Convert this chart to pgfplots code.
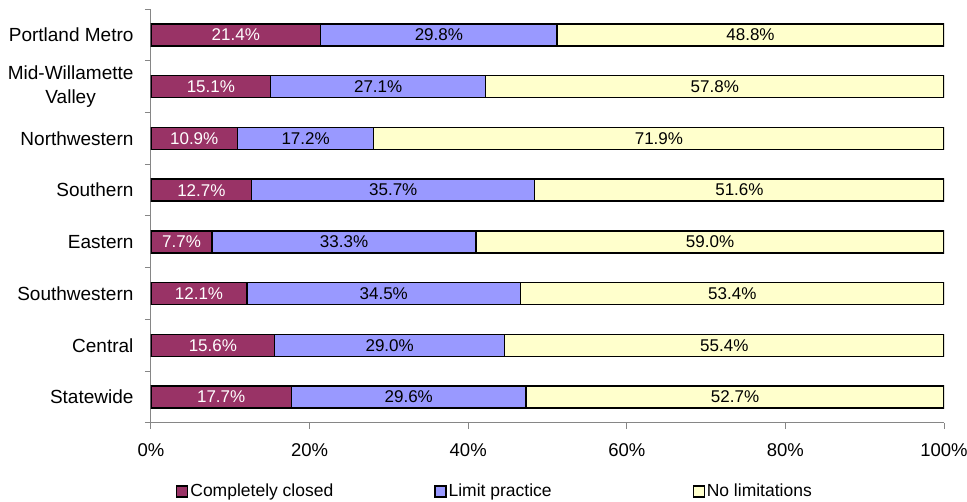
\documentclass[border=0pt]{standalone}
\usepackage{pgfplots}
\pgfplotsset{compat=1.18}
\usepackage{pgfplotstable}
\usepackage{fontspec}
\setmainfont{Liberation Sans}

\definecolor{closed}{HTML}{993366}
\definecolor{limit}{HTML}{9999FF}
\definecolor{nolim}{HTML}{FFFFCC}
\definecolor{axisgray}{HTML}{868686}

% pos 7 = top row (Portland Metro)
\pgfplotstableread{
pos closed limit none
7 21.4 29.8 48.8
6 15.1 27.1 57.8
5 10.9 17.2 71.9
4 12.7 35.7 51.6
3 7.7 33.3 59.0
2 12.1 34.5 53.4
1 15.6 29.0 55.4
0 17.7 29.6 52.7
}\regions

\begin{document}
\begin{tikzpicture}
\path[use as bounding box] (0,0) rectangle (967pt,502pt);
\begin{axis}[
    at={(151pt,79pt)}, anchor=south west,
    scale only axis, width=793pt, height=414pt,
    xmin=0, xmax=100, ymin=-0.5, ymax=7.5,
    /pgf/number format/assume math mode=true,
    axis lines*=left,
    axis line style={-, axisgray, line width=1pt},
    tick align=outside,
    xtick={0,20,...,100},
    xticklabel={\pgfmathprintnumber{\tick}\%},
    xticklabel style={font=\fontsize{18.5}{22}\selectfont, black, yshift=-11pt},
    major tick length=6pt, minor tick length=6pt,
    major x tick style={axisgray, line width=1pt},
    ytick={0,...,7},
    yticklabels={Statewide, Central, Southwestern, Eastern, Southern, Northwestern, {Mid-Willamette\\Valley}, Portland Metro},
    yticklabel style={font=\fontsize{19}{23.5}\selectfont, align=center, black, xshift=-8pt},
    major y tick style={draw=none},
    minor ytick={-0.5,0.5,...,7.5},
    minor y tick style={axisgray, line width=1pt},
    legend image code/.code={\draw[#1, draw=black, line width=1.2pt] (0pt,-6pt) rectangle (11pt,5pt);},
    legend columns=3,
    legend style={draw=none, fill=none, at={(0.0315,-0.1643)}, anchor=west,
        inner sep=0pt, column sep=0pt,
        nodes={inner sep=2pt, font=\fontsize{17.5}{20}\selectfont}},
    barstyle/.style={xbar, bar width=22pt, bar shift=0pt, draw=black, line width=1.3pt, forget plot},
    labstyle/.style={only marks, mark=none, forget plot, point meta=explicit,
        nodes near coords={\pgfmathprintnumber[fixed,fixed zerofill,precision=1]{\pgfplotspointmeta}\%},
        nodes near coords align=center,
        every node near coord/.append style={anchor=center, font=\fontsize{17}{20}\selectfont}},
]
% overlapping bars from 0 to cumulative totals
\addplot[barstyle, fill=nolim] table[x expr=\thisrow{closed}+\thisrow{limit}+\thisrow{none}, y=pos]{\regions};
\addplot[barstyle, fill=limit] table[x expr=\thisrow{closed}+\thisrow{limit}, y=pos]{\regions};
\addplot[barstyle, fill=closed] table[x=closed, y=pos]{\regions};

% segment labels at segment midpoints
\addplot[labstyle, every node near coord/.append style={white}]
    table[x expr=\thisrow{closed}/2, y=pos, meta=closed]{\regions};
\addplot[labstyle, every node near coord/.append style={black}]
    table[x expr=\thisrow{closed}+\thisrow{limit}/2, y=pos, meta=limit]{\regions};
\addplot[labstyle, every node near coord/.append style={black}]
    table[x expr=\thisrow{closed}+\thisrow{limit}+\thisrow{none}/2, y=pos, meta=none]{\regions};

\addlegendimage{fill=closed}
\addlegendentry{\makebox[242pt][l]{Completely closed}}
\addlegendimage{fill=limit}
\addlegendentry{\makebox[242pt][l]{Limit practice}}
\addlegendimage{fill=nolim}
\addlegendentry{No limitations}
\end{axis}
\end{tikzpicture}
\end{document}
